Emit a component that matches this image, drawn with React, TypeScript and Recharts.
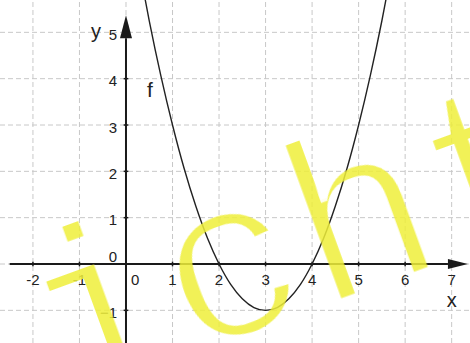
import React from "react";
import { ComposedChart, Line, XAxis, YAxis, ReferenceLine, ReferenceDot } from "recharts";

// values
const xValues = [0.25, 0.5, 0.75, 1, 1.25, 1.5, 1.75, 2, 2.25, 2.5, 2.75, 3, 3.25, 3.5, 3.75, 4, 4.25, 4.5, 4.75, 5, 5.25, 5.5, 5.75];
const fValues = [6.56, 5.25, 4.06, 3, 2.06, 1.25, 0.56, 0, -0.44, -0.75, -0.94, -1, -0.94, -0.75, -0.44, 0, 0.56, 1.25, 2.06, 3, 4.06, 5.25, 6.56];

const gridX = [-2, -1, 0, 1, 2, 3, 4, 5, 6, 7];
const gridY = [-1, 0, 1, 2, 3, 4, 5];
const xTicks = [-2, -1, 1, 2, 3, 4, 5, 6, 7];
const yTicks = [-1, 1, 2, 3, 4, 5];

const xDomain = [-2.708, 7.394];
const yDomain = [-1.705, 5.698];

const data = xValues.map((x, i) => ({ x, f: fValues[i] }));

const W = 470;
const H = 343;
const AXIS = "#1a1a1a";
const LABEL_FONT = "Liberation Sans, Arial, sans-serif";

const fmt = (v: number) => (v < 0 ? "\u2212" + Math.abs(v) : String(v));

// axis line with a filled arrow head at its end
const arrowLine = (len: number, half: number) => (p: any) => {
  const { x1, y1, x2, y2 } = p;
  const dx = x2 - x1;
  const dy = y2 - y1;
  const d = Math.sqrt(dx * dx + dy * dy) || 1;
  const ux = dx / d;
  const uy = dy / d;
  const bx = x2 - ux * len;
  const by = y2 - uy * len;
  return (
    <g>
      <line x1={x1} y1={y1} x2={bx} y2={by} stroke={AXIS} strokeWidth={2} />
      <polygon
        points={`${x2},${y2} ${bx - uy * half},${by + ux * half} ${bx + uy * half},${by - ux * half}`}
        fill={AXIS}
      />
    </g>
  );
};

export default function App() {
  return (
    <div style={{ position: "absolute", left: 0, top: 0, width: W, height: H, background: "#fff" }}>
      <ComposedChart width={W} height={H} data={data} margin={{ top: 0, right: 0, bottom: 0, left: 0 }}>
        <XAxis dataKey="x" type="number" domain={xDomain} allowDataOverflow hide />
        <YAxis type="number" domain={yDomain} allowDataOverflow hide />

        {gridX.map((v) => (
          <ReferenceLine key={"gx" + v} x={v} stroke="#c8c8c8" strokeDasharray="5 3" />
        ))}
        {gridY.map((v) => (
          <ReferenceLine key={"gy" + v} y={v} stroke="#c8c8c8" strokeDasharray="5 3" />
        ))}

        <ReferenceLine segment={[{ x: -2.5, y: 0 }, { x: 7.35, y: 0 }]} shape={arrowLine(20, 5)} />
        <ReferenceLine segment={[{ x: 0, y: -1.705 }, { x: 0, y: 5.37 }]} shape={arrowLine(23, 6)} />

        {xTicks.map((v) => (
          <ReferenceLine key={"tx" + v} segment={[{ x: v, y: -0.05 }, { x: v, y: 0.05 }]} stroke={AXIS} strokeWidth={1.5} />
        ))}
        {yTicks.map((v) => (
          <ReferenceLine key={"ty" + v} segment={[{ x: -0.05, y: v }, { x: 0.05, y: v }]} stroke={AXIS} strokeWidth={1.5} />
        ))}

        <Line dataKey="f" type="natural" stroke="#222" strokeWidth={1.4} dot={false} isAnimationActive={false} />

        {xTicks.map((v) => (
          <ReferenceDot
            key={"lx" + v}
            x={v}
            y={0}
            r={0}
            shape={(p: any) => (
              <text x={p.cx} y={p.cy + 21} textAnchor="middle" fontSize={15} fontFamily={LABEL_FONT} fill="#222">
                {v < 0 ? "-" + Math.abs(v) : v}
              </text>
            )}
          />
        ))}
        {yTicks.map((v) => (
          <ReferenceDot
            key={"ly" + v}
            x={0}
            y={v}
            r={0}
            shape={(p: any) => (
              <text x={p.cx - 9} y={p.cy + 7.5} textAnchor="end" fontSize={15} fontFamily={LABEL_FONT} fill="#222">
                {fmt(v)}
              </text>
            )}
          />
        ))}
        <ReferenceDot
          x={0}
          y={0}
          r={0}
          shape={(p: any) => (
            <g fontSize={15} fontFamily={LABEL_FONT} fill="#222">
              <text x={p.cx - 9} y={p.cy - 2} textAnchor="end">0</text>
              <text x={p.cx + 5} y={p.cy + 21}>0</text>
            </g>
          )}
        />
        <ReferenceDot
          x={0}
          y={5}
          r={0}
          shape={(p: any) => (
            <text x={p.cx - 35} y={p.cy + 6} fontSize={20} fontFamily={LABEL_FONT} fill="#222">y</text>
          )}
        />
        <ReferenceDot
          x={7}
          y={0}
          r={0}
          shape={(p: any) => (
            <text x={p.cx - 5} y={p.cy + 43} fontSize={20} fontFamily={LABEL_FONT} fill="#222">x</text>
          )}
        />
        <ReferenceDot
          x={0.45}
          y={3.6}
          r={0}
          shape={(p: any) => (
            <text x={p.cx} y={p.cy} fontSize={21} fontFamily={LABEL_FONT} fill="#222">f</text>
          )}
        />
      </ComposedChart>

      {/* watermark, thinned a little so the strokes match */}
      <svg width={W} height={H} style={{ position: "absolute", left: 0, top: 0, pointerEvents: "none" }}>
        <defs>
          <filter id="thin" x="-10%" y="-10%" width="120%" height="120%">
            <feMorphology operator="erode" radius="3" />
          </filter>
        </defs>
        <text
          x={58}
          y={404}
          transform="rotate(-20 58 404)"
          fontSize={232}
          fontFamily="Courier New, Liberation Mono, monospace"
          fill="#eeee3a"
          fillOpacity={0.85}
          filter="url(#thin)"
        >
          icht
        </text>
      </svg>
    </div>
  );
}
